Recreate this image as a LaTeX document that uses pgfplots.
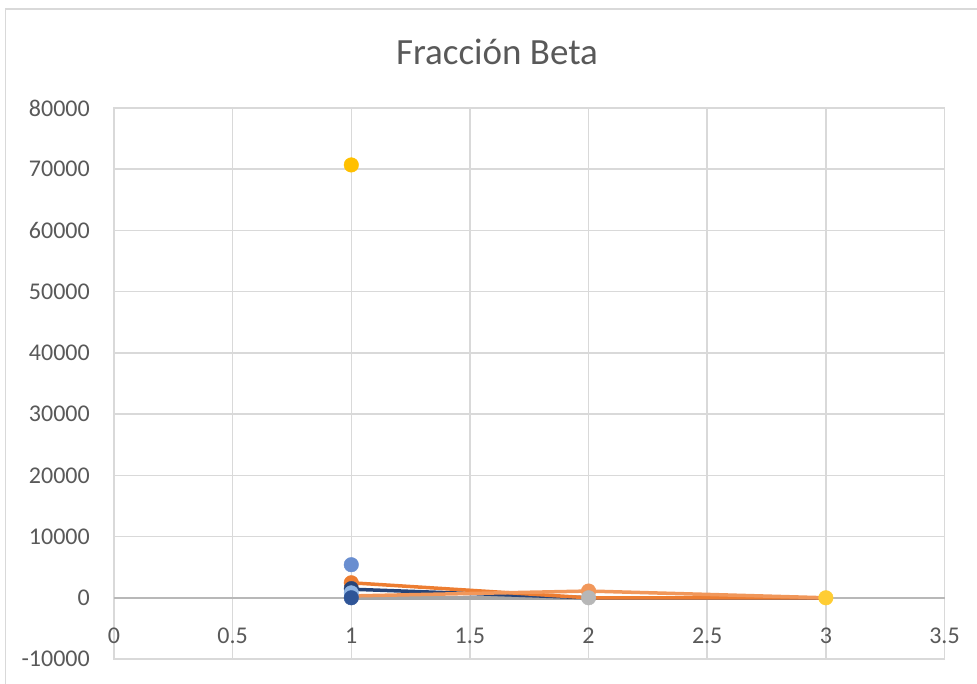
\documentclass[border=0pt]{standalone}
\usepackage{pgfplots}
\pgfplotsset{compat=1.18}
\usepackage{fontspec}
\setmainfont{Carlito}
\definecolor{gridc}{HTML}{D9D9D9}
\definecolor{txt}{HTML}{595959}
\definecolor{cYel}{HTML}{FFC000}
\definecolor{cYel2}{HTML}{FFCD33}
\definecolor{cLB}{HTML}{698ED0}
\definecolor{cOr}{HTML}{ED7D31}
\definecolor{cOr2}{HTML}{F1975A}
\definecolor{cNavy}{HTML}{264478}
\definecolor{cSky}{HTML}{8FB4E3}
\definecolor{cBlue}{HTML}{2F5597}
\definecolor{cGray}{HTML}{A5A5A5}
\definecolor{cGray2}{HTML}{B7B7B7}
\definecolor{cGreen}{HTML}{7E9A5E}
\begin{document}
\begin{tikzpicture}[x=1pt,y=1pt]
\useasboundingbox (0,0) rectangle (977,683);
\draw[gridc, line width=1.5pt] (5.5,-5) -- (5.5,674) -- (985,674);
\node[anchor=base, text=txt, font=\fontsize{37}{44}\selectfont, inner sep=0] at (497,618) {Fracción Beta};
\begin{axis}[
  at={(114pt,24pt)}, anchor=south west,
  scale only axis, width=830.5pt, height=551pt,
  xmin=0, xmax=3.5, ymin=-10000, ymax=80000,
  xtick={0,0.5,1,1.5,2,2.5,3,3.5},
  ytick={-10000,0,10000,20000,30000,40000,50000,60000,70000,80000},
  scaled y ticks=false, scaled x ticks=false,
  /pgf/number format/assume math mode=true,
  /pgf/number format/1000 sep={},
  grid=major,
  grid style={gridc, line width=1.5pt},
  axis line style={gridc, line width=1.5pt},
  major tick length=0pt,
  tick style={draw=none},
  ticklabel style={text=txt, font=\fontsize{24}{28}\selectfont, inner sep=0pt},
  xticklabel style={anchor=center, yshift=23pt},
  yticklabel style={anchor=east, xshift=-24pt},
  clip=false,
]
\draw[color=gridc!85!black, line width=1.5pt] (axis cs:0,0) -- (axis cs:3.5,0);
% lines
\addplot[cGreen, line width=3pt, no markers] coordinates {(1,-150) (2,-150) (3,-150)};
\addplot[cGray, line width=3.5pt, no markers] coordinates {(1,0) (2,0) (3,0)};
\addplot[cNavy, line width=3.5pt, no markers] coordinates {(1,1400) (2,0) (3,0)};
\addplot[cOr, line width=3.5pt, no markers] coordinates {(1,2450) (2,0) (3,0)};
\addplot[cOr2, line width=3.5pt, no markers] coordinates {(1,300) (2,1100) (3,0)};
% markers
\addplot[only marks, mark=*, mark size=7.3pt, cLB, mark options={draw=cLB, fill=cLB}] coordinates {(1,5400)};
\addplot[only marks, mark=*, mark size=7.3pt, cOr, mark options={draw=cOr, fill=cOr}] coordinates {(1,2450)};
\addplot[only marks, mark=*, mark size=7.3pt, cNavy, mark options={draw=cNavy, fill=cNavy}] coordinates {(1,1500)};
\addplot[only marks, mark=*, mark size=7.3pt, cSky, mark options={draw=cSky, fill=cSky}] coordinates {(1,800)};
\addplot[only marks, mark=*, mark size=7.3pt, cBlue, mark options={draw=cBlue, fill=cBlue}] coordinates {(1,0)};
\addplot[only marks, mark=*, mark size=7.3pt, cOr2, mark options={draw=cOr2, fill=cOr2}] coordinates {(2,1100)};
\addplot[only marks, mark=*, mark size=7.3pt, cGray2, mark options={draw=cGray2, fill=cGray2}] coordinates {(2,0)};
\addplot[only marks, mark=*, mark size=7.3pt, cYel2, mark options={draw=cYel2, fill=cYel2}] coordinates {(3,0)};
\addplot[only marks, mark=*, mark size=7.3pt, cYel, mark options={draw=cYel, fill=cYel}] coordinates {(1,70700)};
\end{axis}
\end{tikzpicture}
\end{document}
